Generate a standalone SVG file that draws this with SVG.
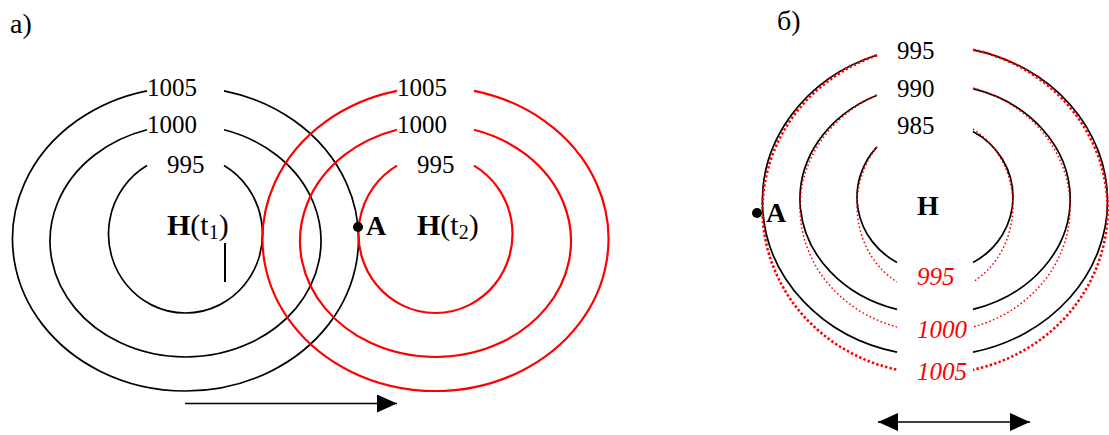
<svg xmlns="http://www.w3.org/2000/svg" width="1109" height="435" viewBox="0 0 1109 435" font-family="'Liberation Serif', 'Times New Roman', serif">
<style>
text{font-family:'Liberation Serif','Times New Roman',serif;fill:#000}
.num{font-size:25px}
.lbl{font-size:28px;font-weight:bold}
.par{font-size:28px}
.blk{fill:none;stroke:#000;stroke-width:1.7}
.red{fill:none;stroke:#f00;stroke-width:2.2}
.rdot1{fill:none;stroke:#f00;stroke-width:2.6;stroke-dasharray:2.4 2.2}
.rdot2{fill:none;stroke:#f00;stroke-width:1.5;stroke-dasharray:1.6 2.4}
.rnum{font-size:25px;font-style:italic;fill:#f00}
</style>
<defs>
<marker id="ah" viewBox="0 0 20 18" refX="20" refY="9" markerWidth="20" markerHeight="18" markerUnits="userSpaceOnUse" orient="auto-start-reverse">
<path d="M0,0 L20,9 L0,18 Z" fill="#000"/>
</marker>
</defs>
<text class="par" x="10" y="33">а)</text>
<text class="par" x="777" y="30">б)</text>
<g id="isobars-t1">
<path class="blk" d="M224,90.8 A173,152 0 1 1 147,90.8"/>
<path class="blk" d="M224,129.8 A135.5,116 0 1 1 147,129.8"/>
<path class="blk" d="M224,165.6 A77,79 0 1 1 147,165.6"/>
<text class="num" x="147" y="96">1005</text>
<text class="num" x="147" y="133">1000</text>
<text class="num" x="167" y="173">995</text>
</g>
<g id="isobars-t2">
<path class="red" d="M474,90.8 A173,152 0 1 1 397,90.8"/>
<path class="red" d="M474,129.8 A135.5,116 0 1 1 397,129.8"/>
<path class="red" d="M474,165.6 A77,79 0 1 1 397,165.6"/>
<text class="num" x="397" y="96">1005</text>
<text class="num" x="397" y="133">1000</text>
<text class="num" x="417" y="173">995</text>
</g>
<g id="H-t1">
<text x="167" y="235" font-size="30"><tspan font-weight="bold">H</tspan>(t<tspan font-size="20" dy="4">1</tspan><tspan dy="-4">)</tspan></text>
<line x1="225" y1="243" x2="225" y2="282" stroke="#000" stroke-width="2"/>
</g>
<g id="H-t2">
<text x="417" y="235" font-size="30"><tspan font-weight="bold">H</tspan>(t<tspan font-size="20" dy="4">2</tspan><tspan dy="-4">)</tspan></text>
</g>
<g id="point-A-a">
<circle cx="358" cy="227" r="5" fill="#000"/>
<text class="lbl" x="366" y="235">A</text>
</g>
<g id="isobars-b">
<path class="blk" d="M877,55 A172.5,155 0 0 0 897,352.2"/>
<path class="blk" d="M973,49.8 A172.5,155 0 0 1 973,352.2"/>
<path class="blk" d="M877,95.2 A135,115 0 0 0 897,309.4"/>
<path class="blk" d="M973,88.6 A135,115 0 0 1 973,309.4"/>
<path class="blk" d="M877,146.9 A78,75 0 0 0 897,262.5"/>
<path class="blk" d="M973,131.5 A78,75 0 0 1 973,262.5"/>
<text class="num" x="897" y="59">995</text>
<text class="num" x="897" y="97">990</text>
<text class="num" x="897" y="134">985</text>
</g>
<g id="isobars-b-red">
<path class="rdot1" d="M877,55.3 A172.5,164 0 0 0 897,369.7"/>
<path class="rdot1" d="M973,49.7 A172.5,164 0 0 1 973,369.7"/>
<path class="rdot2" d="M877,95.1 A135,124.5 0 0 0 897,327"/>
<path class="rdot2" d="M973,88 A135,124.5 0 0 1 973,327"/>
<path class="rdot2" d="M877,147 A78,87.5 0 0 0 897,281.9"/>
<path class="rdot2" d="M973,129.1 A78,87.5 0 0 1 973,281.9"/>
<text class="rnum" x="917" y="285">995</text>
<text class="rnum" x="917" y="338">1000</text>
<text class="rnum" x="917" y="380">1005</text>
</g>
<g id="H-b">
<text class="lbl" x="917" y="215">H</text>
</g>
<g id="point-A-b">
<circle cx="757" cy="213" r="5" fill="#000"/>
<text class="lbl" x="766" y="222">A</text>
</g>
<g id="connectors">
<line x1="185" y1="403.5" x2="397" y2="403.5" stroke="#000" stroke-width="1.6" marker-end="url(#ah)"/>
<line x1="878" y1="422" x2="1030" y2="422" stroke="#000" stroke-width="1.6" marker-start="url(#ah)" marker-end="url(#ah)"/>
</g>
</svg>
